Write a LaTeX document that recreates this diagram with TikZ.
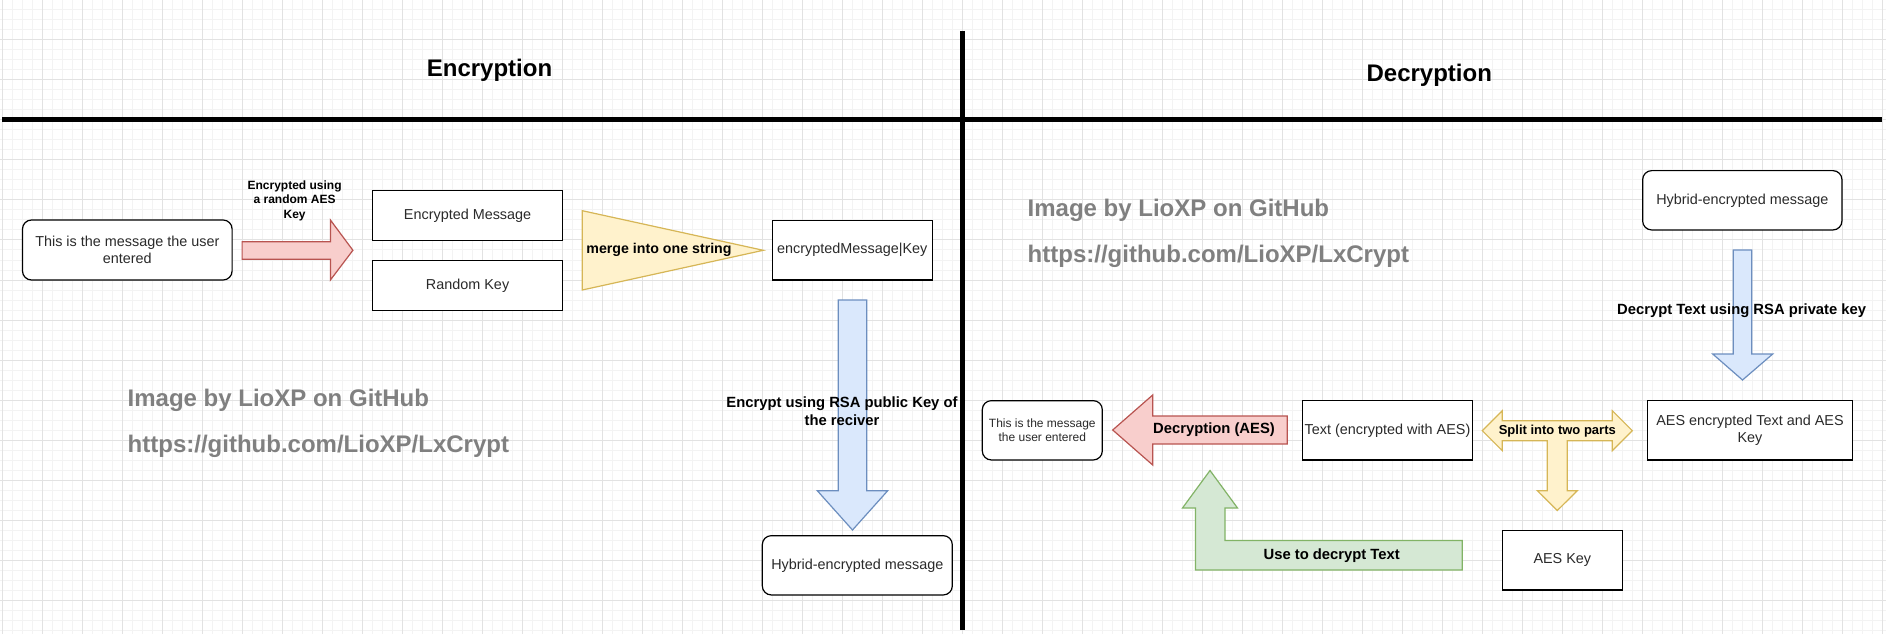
\documentclass[tikz,border=0pt]{standalone}
\usepackage{fontspec}
\setmainfont{Liberation Sans}
\definecolor{redF}{HTML}{F8CECC}\definecolor{redS}{HTML}{B85450}
\definecolor{blueF}{HTML}{DAE8FC}\definecolor{blueS}{HTML}{6C8EBF}
\definecolor{yelF}{HTML}{FFF2CC}\definecolor{yelS}{HTML}{D6B656}
\definecolor{grnF}{HTML}{D5E8D4}\definecolor{grnS}{HTML}{82B366}
\definecolor{wmark}{HTML}{808080}
\definecolor{txt}{HTML}{2A2A2A}
\definecolor{gridmin}{HTML}{F3F3F3}
\definecolor{gridmaj}{HTML}{E2E2E2}
\newcommand{\myfs}[2]{\fontsize{#1bp}{#2bp}\selectfont}
\begin{document}
\begin{tikzpicture}[x=1bp,y=-1bp,
  box/.style={draw=black, line width=1.2bp, fill=white, inner sep=0pt, align=center, font=\myfs{14.4}{17.3}, text=txt},
  rbox/.style={box, rounded corners=9bp},
  lbl/.style={font=\bfseries\myfs{14.8}{17.8}, align=center, inner sep=0pt, text=black},
  smalllbl/.style={font=\bfseries\myfs{12}{14.5}, align=center, inner sep=0pt, text=black},
  title/.style={font=\bfseries\myfs{24}{28}, inner sep=0pt, text=black},
  wm/.style={font=\bfseries\myfs{24}{28}, inner sep=0pt, text=wmark, anchor=west},
  redarrow/.style={fill=redF, draw=redS, line width=1.2bp, line join=miter},
  bluearrow/.style={fill=blueF, draw=blueS, line width=1.2bp, line join=miter},
  yelarrow/.style={fill=yelF, draw=yelS, line width=1.2bp, line join=miter},
  grnarrow/.style={fill=grnF, draw=grnS, line width=1.2bp, line join=miter},
  divider/.style={line width=5bp, draw=black}
]
\useasboundingbox (0,0) rectangle (1886,634);
\fill[white] (0,0) rectangle (1886,634);
% grid
\foreach \x in {2.5,12.5,...,1882.5} \draw[gridmin, line width=1bp] (\x,0) -- (\x,634);
\foreach \y in {10,20,...,630} \draw[gridmin, line width=1bp] (0,\y) -- (1886,\y);
\foreach \x in {2.5,42.5,...,1882.5} \draw[gridmaj, line width=1bp] (\x,0) -- (\x,634);
\foreach \y in {0,40,...,630} \draw[gridmaj, line width=1bp] (0,\y) -- (1886,\y);

% dividers
\coordinate (hL) at (2,120);
\coordinate (hR) at (1882,120);
\coordinate (vT) at (962.5,31);
\coordinate (vB) at (962.5,630);
\draw[divider] (hL) -- (hR);
\draw[divider] (vT) -- (vB);

% titles
\node[title] (tEnc) at (489.5,70.5) {Encryption};
\node[title] (tDec) at (1429.3,75) {Decryption};

% watermarks
\node[wm] (wm1a) at (127.5,400.7) {Image by LioXP on GitHub};
\node[wm] (wm1b) at (127.5,446) {https://github.com/LioXP/LxCrypt};
\node[wm] (wm2a) at (1027.5,210.7) {Image by LioXP on GitHub};
\node[wm] (wm2b) at (1027.5,256) {https://github.com/LioXP/LxCrypt};

% ---------------- Encryption ----------------
\node[rbox, minimum width=209.6bp, minimum height=60bp] (userMsg) at (127.3,250) {This is the message the user\\entered};

\filldraw[redarrow] (242.1,241.7) -- (330.4,241.7) -- (330.4,220) -- (352.9,250.3) -- (330.4,280) -- (330.4,259.3) -- (242.1,259.3) -- cycle;
\node[smalllbl] (lblAES) at (294.6,200.5) {Encrypted using\\a random AES\\Key};

\node[box, minimum width=190.2bp, minimum height=49.5bp] (encMsg) at (467.6,215.4) {Encrypted Message};
\node[box, minimum width=190.2bp, minimum height=49.5bp] (rndKey) at (467.6,285.4) {Random Key};

\filldraw[yelarrow] (582.3,210.7) -- (763.3,250.3) -- (582.3,290) -- cycle;
\node[lbl, font=\bfseries\myfs{14.2}{17}] (lblMerge) at (659,250.3) {merge into one string};

\node[box, minimum width=160bp, minimum height=59.7bp] (encMsgKey) at (852.3,250.2) {encryptedMessage|Key};

\filldraw[bluearrow] (838.3,300) -- (866.7,300) -- (866.7,490.7) -- (887.7,490.7) -- (852.5,530) -- (817.3,490.7) -- (838.3,490.7) -- cycle;
\node[lbl] (lblRSA) at (842,411) {Encrypt using RSA public Key of\\the reciver};

\node[rbox, minimum width=190bp, minimum height=59.3bp] (hybridL) at (857.3,565.3) {Hybrid-encrypted message};

% ---------------- Decryption ----------------
\node[rbox, minimum width=199.3bp, minimum height=59.3bp] (hybridR) at (1742.3,200.3) {Hybrid-encrypted message};

\filldraw[bluearrow] (1733.3,250) -- (1751.7,250) -- (1751.7,354) -- (1772.7,354) -- (1742.5,380) -- (1712.7,354) -- (1733.3,354) -- cycle;
\node[lbl] (lblPriv) at (1741.7,311) {Decrypt Text using RSA private key};

\node[box, minimum width=204.6bp, minimum height=59.3bp] (aesBox) at (1750,430.3) {AES encrypted Text and AES\\Key};

\filldraw[yelarrow] (1482.3,430.7) -- (1502.3,410.7) -- (1502.3,420.7) -- (1612.3,420.7) -- (1612.3,410.7) -- (1632.3,430.7) -- (1612.3,450.7) -- (1612.3,440.7) -- (1567.3,440.7) -- (1567.3,490.7) -- (1577.3,490.7) -- (1557.3,510.5) -- (1537.3,490.7) -- (1547.3,490.7) -- (1547.3,440.7) -- (1502.3,440.7) -- (1502.3,450.7) -- cycle;
\node[lbl, font=\bfseries\myfs{13}{15.6}] (lblSplit) at (1557.3,430.7) {Split into two parts};

\node[box, minimum width=120bp, minimum height=59.7bp] (aesKey) at (1562.3,560.2) {AES Key};

\node[box, minimum width=169.6bp, minimum height=59.3bp] (textAES) at (1387.5,430.3) {Text (encrypted with AES)};

\filldraw[redarrow] (1112.7,430) -- (1152.7,395) -- (1152.7,416) -- (1287.3,416) -- (1287.3,444) -- (1152.7,444) -- (1152.7,465) -- cycle;
\node[lbl] (lblDecAES) at (1214,430) {Decryption (AES)};

\node[rbox, minimum width=120bp, minimum height=59.3bp, font=\myfs{12}{14.4}] (userMsgR) at (1042.3,430.3) {This is the message\\the user entered};

\filldraw[grnarrow] (1210,470.5) -- (1237.5,508) -- (1225,508) -- (1225,540.5) -- (1462.3,540.5) -- (1462.3,570) -- (1195.5,570) -- (1195.5,508) -- (1182.5,508) -- cycle;
\node[lbl] (lblUse) at (1331.7,555.5) {Use to decrypt Text};
\end{tikzpicture}
\end{document}
